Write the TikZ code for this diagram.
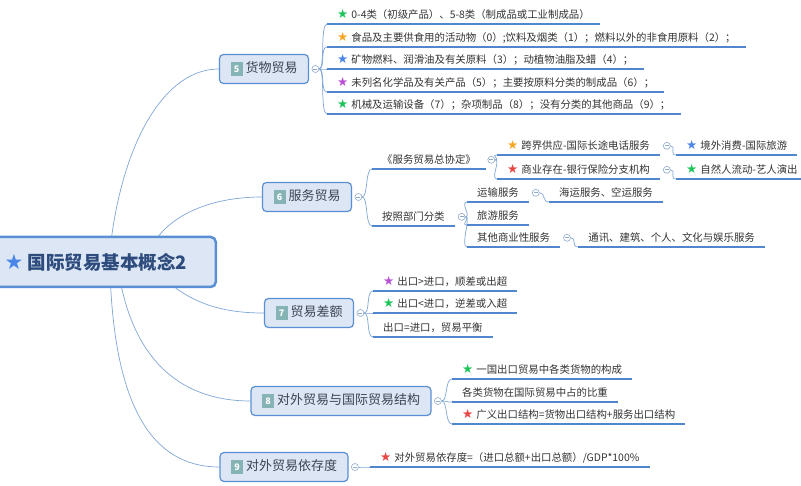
\documentclass[tikz,border=0pt]{standalone}
\usepackage{fontspec}
\setmainfont{Noto Sans CJK SC}
\newfontfamily\symfont{DejaVu Sans}
\usetikzlibrary{positioning,backgrounds}

\definecolor{boxfill}{HTML}{DCE6F4}
\definecolor{boxline}{HTML}{5B8FD4}
\definecolor{linkc}{HTML}{7FA6D8}
\definecolor{ulinec}{HTML}{4F86CC}
\definecolor{badgec}{HTML}{86B4B4}
\definecolor{foldc}{HTML}{8FA9C8}
\definecolor{leaftext}{HTML}{333333}
\definecolor{topictext}{HTML}{3A4452}
\definecolor{roottext}{HTML}{2D4B7C}
\definecolor{stgreen}{HTML}{1DC45A}
\definecolor{storange}{HTML}{F5A623}
\definecolor{stblue}{HTML}{4A86E8}
\definecolor{stpurple}{HTML}{B84FD6}
\definecolor{stred}{HTML}{E84545}

\newcommand\mstar[1]{{\symfont\fontsize{12.5}{12}\selectfont\textcolor{#1}{★}}\nobreak\hspace{3pt}}
\newcommand\bigstar[1]{{\symfont\fontsize{21}{20}\selectfont\textcolor{#1}{★}}\nobreak\hspace{4pt}}
\newcommand\badge[1]{{\setlength\fboxsep{2.5pt}\colorbox{badgec}{\rule[-1pt]{0pt}{9pt}\makebox[7pt]{\textcolor{white}{\fontsize{9}{9}\selectfont\bfseries #1}}}}\hspace{3pt}}

\begin{document}
\begin{tikzpicture}[
  x=1pt, y=-1pt,
  rootbox/.style={draw=boxline, fill=boxfill, line width=2.5pt, rounded corners=5pt,
    minimum width=240pt, minimum height=50pt, text=roottext,
    font=\fontsize{18.5}{20}\selectfont\bfseries},
  topic/.style={draw=boxline, fill=boxfill, line width=1.2pt, rounded corners=4pt,
    inner xsep=11pt, minimum height=29pt, text=topictext, font=\fontsize{13}{15}\selectfont},
  leaf/.style={anchor=south west, inner xsep=10pt, inner ysep=3pt, text height=9.5pt,
    text depth=2.5pt, text=leaftext, font=\fontsize{10.4}{12}\selectfont},
  fold/.style={circle, draw=foldc, fill=white, line width=0.6pt, inner sep=0pt, minimum size=7pt,
    path picture={\draw[foldc, line width=0.6pt] ([xshift=-2pt]path picture bounding box.center)
      -- ([xshift=2pt]path picture bounding box.center);}},
  link/.style={draw=linkc, line width=0.7pt},
  uline/.style={draw=ulinec, line width=1.6pt},
]
  \useasboundingbox (0,0) rectangle (801,486);

  % root and main topics
  \node[rootbox, anchor=east] (root) at (217,262) {\bigstar{stblue}国际贸易基本概念2};

  \node[topic] (b5) at (264,69) {\badge{5}货物贸易};
  \node[topic] (b6) at (307,197) {\badge{6}服务贸易};
  \node[topic] (b7) at (309,313) {\badge{7}贸易差额};
  \node[topic] (b8) at (341,401) {\badge{8}对外贸易与国际贸易结构};
  \node[topic] (b9) at (284,467) {\badge{9}对外贸易依存度};

  \foreach \b/\f in {b5/f5,b6/f6,b7/f7,b8/f8,b9/f9}
    \node[fold, right=2.5pt of \b] (\f) {};

  % 货物贸易
  \node[leaf] (g1) at (327,24) {\mstar{stgreen}0-4类（初级产品）、5-8类（制成品或工业制成品）};
  \node[leaf] (g2) at (327,47) {\mstar{storange}食品及主要供食用的活动物（0）;饮料及烟类（1）；燃料以外的非食用原料（2）；};
  \node[leaf] (g3) at (327,69) {\mstar{stblue}矿物燃料、润滑油及有关原料（3）；动植物油脂及蜡（4）；};
  \node[leaf] (g4) at (327,92) {\mstar{stpurple}未列名化学品及有关产品（5）；主要按原料分类的制成品（6）；};
  \node[leaf] (g5) at (327,114) {\mstar{stgreen}机械及运输设备（7）；杂项制品（8）；没有分类的其他商品（9）；};

  % 服务贸易
  \node[leaf] (s1) at (372,169) {《服务贸易总协定》};
  \node[leaf] (s2) at (372,226) {按照部门分类};
  \node[fold, right=1.5pt of s1] (f61) {};
  \node[fold, right=3pt of s2] (f62) {};

  \node[leaf] (t1) at (497,155) {\mstar{storange}跨界供应-国际长途电话服务};
  \node[leaf] (t2) at (497,179) {\mstar{stred}商业存在-银行保险分支机构};
  \node[fold, right=3pt of t1] (f71) {};
  \node[fold, right=3pt of t2] (f72) {};
  \node[leaf, xshift=16pt] (u1) at (t1.south east) {\mstar{stblue}境外消费-国际旅游};
  \node[leaf, xshift=16pt] (u2) at (t2.south east) {\mstar{stgreen}自然人流动-艺人演出};

  \node[leaf] (r1) at (467,202) {运输服务};
  \node[leaf] (r2) at (467,225) {旅游服务};
  \node[leaf] (r3) at (467,247) {其他商业性服务};
  \node[fold, right=3pt of r1] (f63) {};
  \node[fold, right=3pt of r3] (f64) {};
  \node[leaf, xshift=20pt] (r4) at (r1.south east) {海运服务、空运服务};
  \node[leaf, xshift=18pt] (r5) at (r3.south east) {通讯、建筑、个人、文化与娱乐服务};

  % 贸易差额
  \node[leaf] (p1) at (373,291) {\mstar{stpurple}出口>进口，顺差或出超};
  \node[leaf] (p2) at (373,313) {\mstar{stgreen}出口<进口，逆差或入超};
  \node[leaf] (p3) at (373,337) {出口=进口，贸易平衡};

  % 结构
  \node[leaf] (q1) at (452,379) {\mstar{stgreen}一国出口贸易中各类货物的构成};
  \node[leaf] (q2) at (452,402) {各类货物在国际贸易中占的比重};
  \node[leaf] (q3) at (452,424) {\mstar{stred}广义出口结构=货物出口结构+服务出口结构};

  % 依存度
  \node[leaf] (h1) at (370,467) {\mstar{stred}对外贸易依存度=（进口总额+出口总额）/GDP*100\%};

  \foreach \n in {g1,g2,g3,g4,g5,s1,s2,t1,t2,u1,u2,r1,r2,r3,r4,r5,p1,p2,p3,q1,q2,q3,h1}
    \draw[uline] (\n.south west) -- (\n.south east);

  \begin{scope}[on background layer]
    \fill[white] (0,0) rectangle (801,486);
    % root to topics
    \draw[link] ([xshift=16pt]root.north) .. controls (125,140) and (165,69) .. (b5.west);
    \draw[link] ([xshift=63pt]root.north) .. controls (178,212) and (215,197) .. (b6.west);
    \draw[link] ([xshift=80pt]root.south) .. controls (200,305) and (225,313) .. (b7.west);
    \draw[link] ([xshift=26pt]root.south) .. controls (140,370) and (190,401) .. (b8.west);
    \draw[link] ([xshift=15pt]root.south) .. controls (118,420) and (160,467) .. (b9.west);

    % folds to children
    \foreach \f/\n in {f5/g1,f5/g2,f5/g3,f5/g4,f5/g5,f6/s1,f6/s2,f61/t1,f61/t2,
        f62/r1,f62/r2,f62/r3,f71/u1,f72/u2,f63/r4,f64/r5,
        f7/p1,f7/p2,f7/p3,f8/q1,f8/q2,f8/q3,f9/h1}
      \draw[link] (\f.east) .. controls +(6,0) and +(-7,0) .. (\n.south west);
  \end{scope}
\end{tikzpicture}
\end{document}
